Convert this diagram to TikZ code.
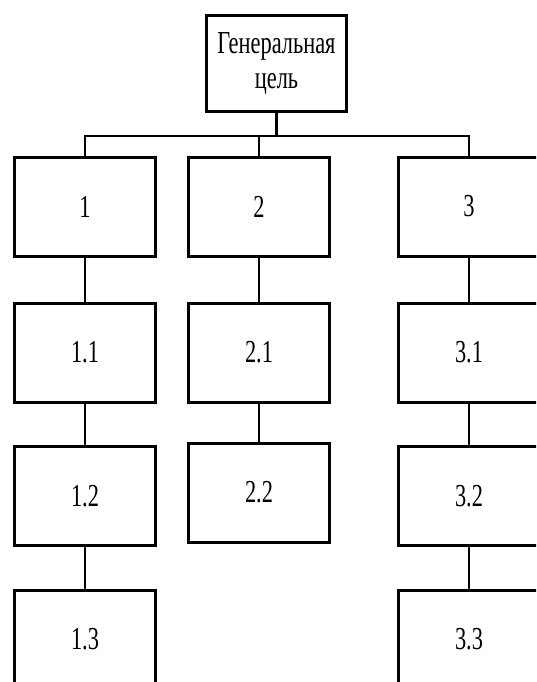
\documentclass[tikz,border=0pt]{standalone}
\usepackage{fontspec}
\setmainfont{Liberation Serif}[FakeStretch=0.7]
\begin{document}
\begin{tikzpicture}[x=1pt,y=-1pt,
  box/.style={draw, line width=3pt, minimum width=141pt, minimum height=99pt,
    inner sep=0pt, align=center, font=\fontsize{32}{35}\selectfont},
  link/.style={line width=2pt}]
\useasboundingbox (0,0) rectangle (536,682);
\clip (0,0) rectangle (536,682);
\node[box, minimum width=140pt, minimum height=96pt] (g) at (276.5,63.5) {Генеральная\\цель};
\node[box] (n1) at (85,206.5) {1};
\node[box] (n2) at (259,206.5) {2};
\node[box] (n3) at (469,206.5) {3};
\node[box] (n11) at (85,352.5) {1.1};
\node[box] (n21) at (259,352.5) {2.1};
\node[box] (n31) at (469,352.5) {3.1};
\node[box] (n12) at (85,496) {1.2};
\node[box] (n22) at (259,492.5) {2.2};
\node[box] (n32) at (469,496) {3.2};
\node[box] (n13) at (85,639.5) {1.3};
\node[box] (n33) at (469,639.5) {3.3};
\coordinate (bus) at (276.5,136);
\draw[link, line width=3pt] (g.south) -- (bus);
\draw[link] (n1.north) |- (bus) -| (n3.north);
\draw[link] (n2.north) -- (n2.north |- bus);
\draw[link] (n1.south) -- (n11.north);
\draw[link] (n11.south) -- (n12.north);
\draw[link] (n12.south) -- (n13.north);
\draw[link] (n2.south) -- (n21.north);
\draw[link] (n21.south) -- (n22.north);
\draw[link] (n3.south) -- (n31.north);
\draw[link] (n31.south) -- (n32.north);
\draw[link] (n32.south) -- (n33.north);
\end{tikzpicture}
\end{document}
